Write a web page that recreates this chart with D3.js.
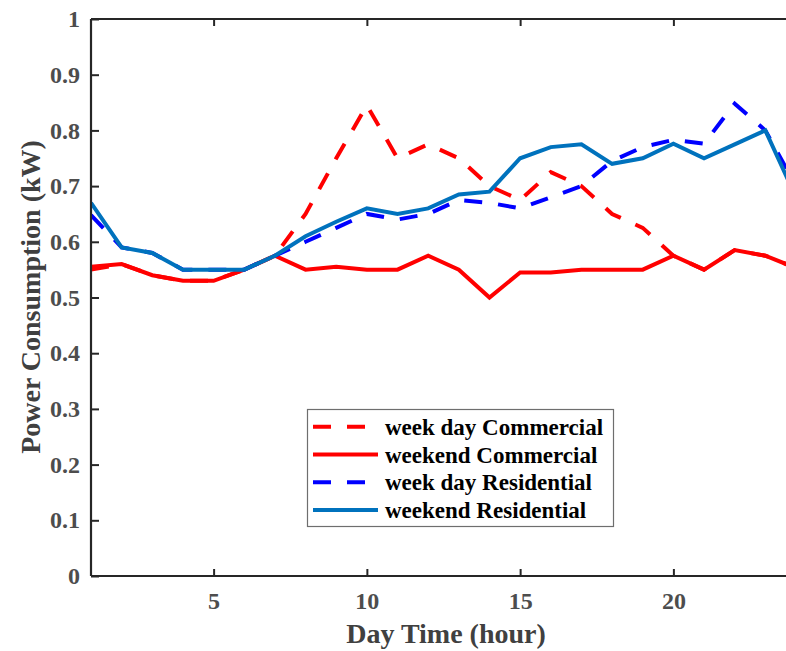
<!DOCTYPE html>
<html>
<head>
<meta charset="utf-8">
<script src="https://cdn.jsdelivr.net/npm/d3@7"></script>
<style>
  html, body { margin: 0; padding: 0; background: #fff; overflow: hidden; }
  svg { display: block; }
  text { font-family: "Liberation Serif", "Times New Roman", serif; font-weight: bold; }
</style>
</head>
<body>
<svg id="chart" width="786" height="651"></svg>
<script>
// ---- data ----
const hours = [1,2,3,4,5,6,7,8,9,10,11,12,13,14,15,16,17,18,19,20,21,22,23,24];
const weekdayCommercial  = [0.55,0.56,0.54,0.53,0.53,0.55,0.575,0.65,0.75,0.845,0.75,0.775,0.75,0.70,0.675,0.725,0.70,0.65,0.625,0.575,0.55,0.585,0.575,0.553];
const weekendCommercial  = [0.555,0.56,0.54,0.53,0.53,0.55,0.575,0.55,0.555,0.55,0.55,0.575,0.55,0.50,0.545,0.545,0.55,0.55,0.55,0.575,0.55,0.585,0.575,0.553];
const weekdayResidential = [0.648,0.59,0.58,0.55,0.55,0.55,0.575,0.60,0.625,0.65,0.64,0.65,0.675,0.67,0.66,0.68,0.70,0.745,0.77,0.783,0.776,0.848,0.80,0.70];
const weekendResidential = [0.67,0.59,0.58,0.55,0.55,0.55,0.575,0.61,0.636,0.66,0.65,0.66,0.685,0.69,0.75,0.77,0.775,0.74,0.75,0.776,0.75,0.775,0.80,0.68];
const seriesNames  = ["week day Commercial","weekend Commercial","week day Residential","weekend Residential"];
const seriesColors = ["#FF0000","#FF0000","#0000FF","#0072BD"];
const seriesDashed = [true,false,true,false];
const xTicks = [5,10,15,20];
const yTicks = [0,0.1,0.2,0.3,0.4,0.5,0.6,0.7,0.8,0.9,1];
const xLabel = "Day Time (hour)";
const yLabel = "Power Consumption (kW)";

// ---- layout ----
const svg = d3.select("#chart");
const pL = 91, pR = 796, pT = 19, pB = 576;
const x = d3.scaleLinear().domain([1,24]).range([pL, pR]);
const y = d3.scaleLinear().domain([0,1]).range([pB, pT]);
const axisColor = "#262626";
const labelColor = "#4d4d4d";

svg.append("clipPath").attr("id","clip")
  .append("rect").attr("x",pL).attr("y",pT).attr("width",pR-pL).attr("height",pB-pT);

// lines
const allSeries = [weekdayCommercial, weekendCommercial, weekdayResidential, weekendResidential];
const line = d3.line().x((d,i)=>x(hours[i])).y(d=>y(d));
const gLines = svg.append("g").attr("clip-path","url(#clip)");
[1,0,2,3].forEach(k => {
  gLines.append("path")
    .datum(allSeries[k])
    .attr("d", line)
    .attr("fill","none")
    .attr("stroke", seriesColors[k])
    .attr("stroke-width", 4)
    .attr("stroke-linejoin","miter")
    .attr("stroke-dasharray", seriesDashed[k] ? "18,16" : null);
});

// axes
const xAxisB = d3.axisBottom(x).tickValues(xTicks).tickSize(-7).tickPadding(16).tickFormat(d3.format("d"));
const xAxisT = d3.axisTop(x).tickValues(xTicks).tickSize(-7).tickFormat("");
const yAxisL = d3.axisLeft(y).tickValues(yTicks).tickSize(-8).tickPadding(11).tickFormat(d => d===0||d===1 ? d3.format("d")(d) : d3.format(".1f")(d));

function styleAxis(g) {
  g.select(".domain").attr("stroke", axisColor).attr("stroke-width", 2.2);
  g.selectAll(".tick line").attr("stroke", axisColor).attr("stroke-width", 2);
  g.selectAll(".tick text").attr("fill", labelColor).style("font-size","24px")
    .style("font-family","'Liberation Serif', serif").style("font-weight","bold");
}
const gxb = svg.append("g").attr("transform",`translate(0,${pB})`).call(xAxisB).call(styleAxis);
gxb.select(".domain").attr("d", `M${pL},0H${pR}`);
gxb.selectAll(".tick text").attr("dy","0.71em");
const gxt = svg.append("g").attr("transform",`translate(0,${pT})`).call(xAxisT).call(styleAxis);
gxt.select(".domain").attr("d", `M${pL},0H${pR}`);
const gyl = svg.append("g").attr("transform",`translate(${pL},0)`).call(yAxisL).call(styleAxis);
gyl.select(".domain").attr("d", `M0,${pT}V${pB}`);

// axis titles
svg.append("text").attr("x", 446).attr("y", 643).attr("text-anchor","middle")
  .attr("fill", "#404040").style("font-size","28px").text(xLabel);
svg.append("text").attr("transform","translate(40,297) rotate(-90)").attr("text-anchor","middle")
  .attr("fill", "#404040").style("font-size","28px").text(yLabel);

// legend
const lg = svg.append("g");
lg.append("rect").attr("x",307.5).attr("y",409.5).attr("width",306).attr("height",117)
  .attr("fill","#fff").attr("stroke","#6e6e6e").attr("stroke-width",1.2);
seriesNames.forEach((name, i) => {
  const cy = 426.7 + i*27.8;
  lg.append("line").attr("x1",313).attr("x2",378).attr("y1",cy).attr("y2",cy)
    .attr("stroke", seriesColors[i]).attr("stroke-width",4)
    .attr("stroke-dasharray", seriesDashed[i] ? "18,16" : null);
  lg.append("text").attr("x",385).attr("y",cy+8).attr("fill","#000")
    .style("font-size","23px").text(name);
});
</script>
</body>
</html>
